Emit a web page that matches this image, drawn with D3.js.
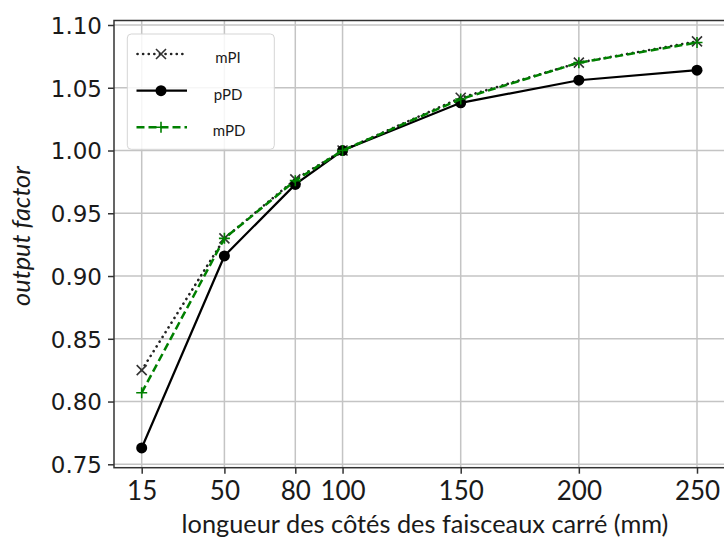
<!DOCTYPE html>
<html>
<head>
<meta charset="utf-8">
<script src="https://cdn.jsdelivr.net/npm/d3@7"></script>
<style>
  html, body { margin: 0; padding: 0; background: #fff; }
  svg { display: block; }
</style>
</head>
<body>
<svg id="chart" width="724" height="539"></svg>
<script>
// ---- data ----
const sizes = [15, 50, 80, 100, 150, 200, 250];
const mPI = [0.825, 0.930, 0.977, 1.000, 1.042, 1.070, 1.087];
const pPD = [0.763, 0.916, 0.973, 1.000, 1.038, 1.056, 1.064];
const mPD = [0.807, 0.930, 0.976, 1.000, 1.041, 1.070, 1.086];
const yTicks = [0.75, 0.80, 0.85, 0.90, 0.95, 1.00, 1.05, 1.10];
const xTicks = [15, 50, 80, 100, 150, 200, 250];
const seriesNames = ["mPI", "pPD", "mPD"];
const xTitle = "longueur des côtés des faisceaux carré (mm)";
const yTitle = "output factor";

// ---- layout ----
const svg = d3.select("#chart");
const plot = { left: 114, right: 725, top: 20.5, bottom: 467.7 };

const x = d3.scaleLinear().domain([15, 250]).range([141.7, 697]);
const y = d3.scaleLinear().domain([0.75, 1.10]).range([464.3, 25]);

const green = "#008000";
const dotPattern = "0.1,5.5";

// grid
const grid = svg.append("g");
grid.selectAll(".gx").data(xTicks).enter().append("line")
  .attr("x1", d => x(d)).attr("x2", d => x(d))
  .attr("y1", plot.top).attr("y2", plot.bottom)
  .attr("stroke", "#c4c4c4").attr("stroke-width", 1.5);
grid.selectAll(".gy").data(yTicks).enter().append("line")
  .attr("x1", plot.left).attr("x2", plot.right)
  .attr("y1", d => y(d)).attr("y2", d => y(d))
  .attr("stroke", "#c4c4c4").attr("stroke-width", 1.5);

// spines
svg.append("rect")
  .attr("x", plot.left).attr("y", plot.top)
  .attr("width", plot.right - plot.left).attr("height", plot.bottom - plot.top)
  .attr("fill", "none").attr("stroke", "#333").attr("stroke-width", 1.5);

// y axis ticks
const yAxis = d3.axisLeft(y).tickValues(yTicks).tickFormat(d3.format(".2f")).tickSize(6).tickPadding(6);
const gy = svg.append("g").attr("transform", `translate(${plot.left},0)`).call(yAxis);
gy.select(".domain").remove();
gy.selectAll(".tick line").attr("stroke", "#333").attr("stroke-width", 1.5);
gy.selectAll(".tick text")
  .attr("font-family", "DejaVu Sans").attr("font-size", 23).attr("fill", "#1a1a1a")
  .attr("dy", "0.36em");

// x axis ticks
const xAxis = d3.axisBottom(x).tickValues(xTicks).tickFormat(d3.format("d")).tickSize(6).tickPadding(8);
const gx = svg.append("g").attr("transform", `translate(0,${plot.bottom})`).call(xAxis);
gx.select(".domain").remove();
gx.selectAll(".tick line").attr("stroke", "#333").attr("stroke-width", 1.5);
gx.selectAll(".tick text")
  .attr("font-family", "Lato").attr("font-size", 26).attr("fill", "#1a1a1a")
  .attr("dy", null).attr("y", 32);

// axis titles
const xt = svg.append("text")
  .attr("x", 425).attr("y", 533).attr("text-anchor", "middle")
  .attr("font-family", "Lato").attr("font-size", 22).attr("fill", "#1a1a1a")
  .text(xTitle);
const w = xt.node().getComputedTextLength();
xt.attr("font-size", 22 * 487 / w);

const yt = svg.append("text")
  .attr("transform", "translate(30,236) rotate(-90)")
  .attr("text-anchor", "middle")
  .attr("font-family", "Lato").attr("font-style", "italic").attr("font-size", 22).attr("fill", "#1a1a1a")
  .text(yTitle);
const wy = yt.node().getComputedTextLength();
yt.attr("font-size", 22 * 140 / wy);

// lines
const line = d3.line().x(d => x(d[0])).y(d => y(d[1]));
const pts = arr => sizes.map((s, i) => [s, arr[i]]);

const gMarks = svg.append("g");

function xMarker(g, cx, cy, r, color, w) {
  g.append("path").attr("d", `M${cx - r},${cy - r}L${cx + r},${cy + r}M${cx - r},${cy + r}L${cx + r},${cy - r}`)
    .attr("stroke", color).attr("stroke-width", w).attr("fill", "none");
}
function plusMarker(g, cx, cy, r, color, w) {
  g.append("path").attr("d", `M${cx - r},${cy}L${cx + r},${cy}M${cx},${cy - r}L${cx},${cy + r}`)
    .attr("stroke", color).attr("stroke-width", w).attr("fill", "none");
}

// mPI
gMarks.append("path").datum(pts(mPI)).attr("d", line)
  .attr("fill", "none").attr("stroke", "#222").attr("stroke-width", 2.6)
  .attr("stroke-dasharray", dotPattern).attr("stroke-linecap", "round");
pts(mPI).forEach(p => xMarker(gMarks, x(p[0]), y(p[1]), 5, "#333", 1.6));

// pPD
gMarks.append("path").datum(pts(pPD)).attr("d", line)
  .attr("fill", "none").attr("stroke", "#000").attr("stroke-width", 2.2);
gMarks.selectAll(".pc").data(pts(pPD)).enter().append("circle")
  .attr("cx", d => x(d[0])).attr("cy", d => y(d[1])).attr("r", 5.5).attr("fill", "#000");

// mPD
gMarks.append("path").datum(pts(mPD)).attr("d", line)
  .attr("fill", "none").attr("stroke", green).attr("stroke-width", 2.5)
  .attr("stroke-dasharray", "8,4");
pts(mPD).forEach(p => plusMarker(gMarks, x(p[0]), y(p[1]), 5.5, green, 1.6));

// legend
const lg = svg.append("g");
lg.append("rect").attr("x", 127.3).attr("y", 34).attr("width", 147).attr("height", 115.3)
  .attr("rx", 4).attr("fill", "rgba(255,255,255,0.85)").attr("stroke", "#d5d5d5").attr("stroke-width", 1);
const rowsY = [54, 90.7, 127.3];
const textX = [228, 228, 229];
const x0 = 136.5, x1 = 187, xm = 161;
// mPI
lg.append("line").attr("x1", x0 + 1).attr("x2", x1).attr("y1", rowsY[0]).attr("y2", rowsY[0])
  .attr("stroke", "#222").attr("stroke-width", 2.6).attr("stroke-dasharray", dotPattern).attr("stroke-linecap", "round");
xMarker(lg, xm, rowsY[0], 5, "#333", 1.6);
// pPD
lg.append("line").attr("x1", x0).attr("x2", x1).attr("y1", rowsY[1]).attr("y2", rowsY[1])
  .attr("stroke", "#000").attr("stroke-width", 2.2);
lg.append("circle").attr("cx", xm).attr("cy", rowsY[1]).attr("r", 5.5).attr("fill", "#000");
// mPD
lg.append("line").attr("x1", x0).attr("x2", x1).attr("y1", rowsY[2]).attr("y2", rowsY[2])
  .attr("stroke", green).attr("stroke-width", 2.5).attr("stroke-dasharray", "8,4");
plusMarker(lg, xm, rowsY[2], 5.5, green, 1.6);

seriesNames.forEach((n, i) => {
  lg.append("text").attr("x", textX[i]).attr("y", rowsY[i] + 9).attr("text-anchor", "middle")
    .attr("font-family", "Lato").attr("font-size", 15).attr("fill", "#1a1a1a").text(n);
});
</script>
</body>
</html>
